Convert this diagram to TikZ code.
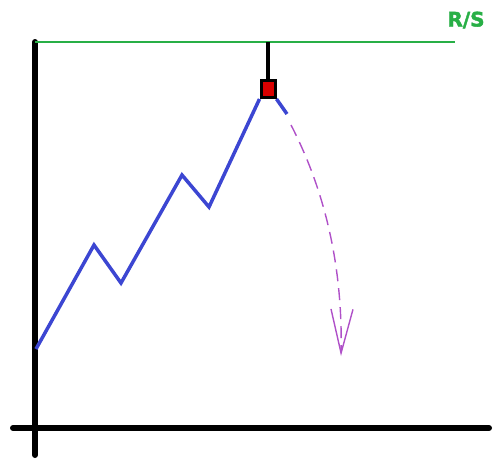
\documentclass[tikz,border=0pt]{standalone}
\usepackage{fontspec}
\setmainfont{Liberation Sans}
\newfontfamily\rsfont[FakeBold=2]{DejaVu Sans Bold}
\usetikzlibrary{arrows.meta}
\definecolor{rsgreen}{RGB}{40,175,70}
\definecolor{priceblue}{RGB}{60,70,210}
\definecolor{fcpurple}{RGB}{175,80,200}
\begin{document}
\begin{tikzpicture}[x=1pt, y=-1pt,
    axis/.style={line width=6pt, line cap=round},
    level/.style={rsgreen, line width=1.2pt},
    price/.style={priceblue, line width=3.5pt},
    candle/.style={draw=black, fill=red!85!black, line width=3pt, minimum width=14pt, minimum height=17pt, inner sep=0pt},
    forecast/.style={fcpurple, line width=1.4pt, dash pattern=on 12pt off 7pt,
      -{Straight Barb[length=44pt, width=22pt, line width=1.4pt]}},
  ]
    \useasboundingbox (0,0) rectangle (494,459);

    % axes
    \coordinate (ytop) at (35,42);
    \coordinate (ybot) at (35,455);
    \coordinate (xl) at (13,428);
    \coordinate (xr) at (489,428);
    \draw[axis] (ytop) -- (ybot);
    \draw[axis] (xl) -- (xr);

    % resistance / support level
    \coordinate (lvlend) at (455,42);
    \draw[level] (ytop) -- (lvlend);
    \node[rsgreen, font=\rsfont\fontsize{20}{24}\selectfont] (rs) at (466,20) {R/S};

    % candle at the top
    \node[candle] (cndl) at (268,89) {};
    \coordinate (wick) at (268,42);
    \draw[line width=4pt] (wick) -- (cndl.north);

    % price path
    \coordinate (p0) at (36,349);
    \coordinate (p1) at (94,245);
    \coordinate (p2) at (121,283);
    \coordinate (p3) at (182,175);
    \coordinate (p4) at (209,207);
    \coordinate (p5) at (287,114);
    \draw[price] (p0) -- (p1) -- (p2) -- (p3) -- (p4) -- (cndl.south west);
    \draw[price] (cndl.south east) -- (p5);

    % expected drop
    \coordinate (fc0) at (291,125);
    \coordinate (fc1) at (341,356);
    \draw[forecast] (fc0) .. controls (322,185) and (343,260) .. (fc1);
\end{tikzpicture}
\end{document}
